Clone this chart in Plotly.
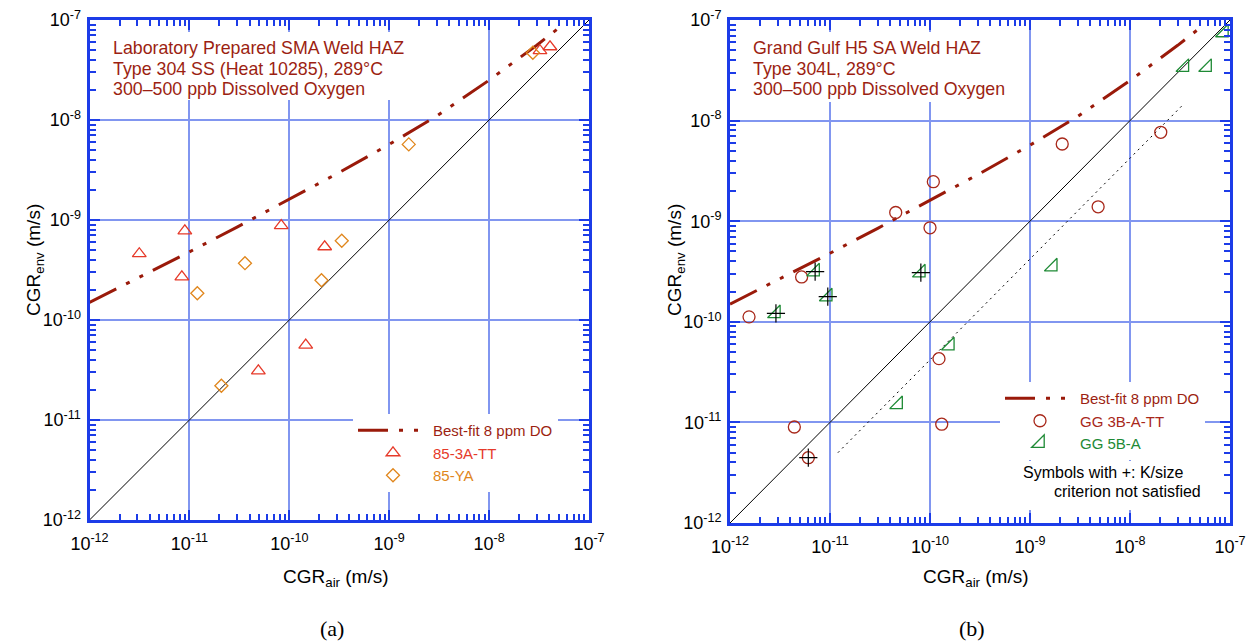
import plotly.graph_objects as go

# ---------------- data (m/s) ----------------
# Best-fit curve, 8 ppm dissolved oxygen
bestfit_air = [1e-12, 3e-12, 1e-11, 3e-11, 1e-10, 3e-10, 1e-9, 3e-9, 1e-8, 3e-8, 5.2e-8]
bestfit_env = [1.5e-10, 2.6e-10, 4.8e-10, 8.5e-10, 1.6e-9, 2.9e-9, 5.7e-9, 1.1e-8, 2.5e-8, 5.6e-8, 8.6e-8]

# 1:1 line
unity_air = [1e-12, 1e-7]
unity_env = [1e-12, 1e-7]

# Panel (a): laboratory prepared SMA weld HAZ
tt85_air = [3.15e-12, 9.0e-12, 8.4e-12, 8.3e-11, 2.26e-10, 1.46e-10, 4.9e-11, 3.23e-8, 4.07e-8]
tt85_env = [4.6e-10, 7.8e-10, 2.7e-10, 8.8e-10, 5.4e-10, 5.6e-11, 3.1e-11, 4.93e-8, 5.4e-8]
ya85_air = [3.6e-11, 1.2e-11, 3.35e-10, 2.1e-10, 2.09e-11, 1.57e-9, 2.74e-8]
ya85_env = [3.7e-10, 1.85e-10, 6.2e-10, 2.5e-10, 2.2e-11, 5.7e-9, 4.7e-8]

# Panel (b): Grand Gulf H5 SA weld HAZ
gg3b_air = [1.55e-12, 5.2e-12, 4.54e-11, 1.0e-10, 1.23e-10, 1.31e-10, 4.4e-12, 6.07e-12,
            1.08e-10, 2.1e-9, 2.03e-8, 4.8e-9]
gg3b_env = [1.12e-10, 2.79e-10, 1.22e-9, 8.6e-10, 4.3e-11, 9.6e-12, 9.0e-12, 4.46e-12,
            2.47e-9, 5.85e-9, 7.65e-9, 1.39e-9]
gg3b_ksize_fail = [False, False, False, False, False, False, False, True,
                   False, False, False, False]
gg5b_air = [2.88e-12, 7.1e-12, 9.5e-12, 8.1e-11, 1.58e-10, 4.8e-11, 1.69e-9, 3.5e-8, 5.9e-8, 8.7e-8]
gg5b_env = [1.21e-10, 3.15e-10, 1.78e-10, 3.08e-10, 5.8e-11, 1.51e-11, 3.53e-10, 3.39e-8, 3.39e-8, 7.5e-8]
gg5b_ksize_fail = [True, True, True, True, False, False, False, False, False, False]

# Lower bound (dotted) in panel (b)
lower_air = [1.2e-11, 3.3e-8]
lower_env = [5.0e-12, 1.4e-8]

# Tick labels
decades = [1e-12, 1e-11, 1e-10, 1e-9, 1e-8, 1e-7]
decade_labels = ["10<sup>-12</sup>", "10<sup>-11</sup>", "10<sup>-10</sup>",
                 "10<sup>-9</sup>", "10<sup>-8</sup>", "10<sup>-7</sup>"]
minor_vals = [m * d for d in decades[:-1] for m in range(2, 10)]

# Panel captions
caption_a = ["Laboratory Prepared SMA Weld HAZ", "Type 304 SS (Heat 10285), 289°C",
             "300–500 ppb Dissolved Oxygen"]
caption_b = ["Grand Gulf H5 SA Weld HAZ", "Type 304L, 289°C", "300–500 ppb Dissolved Oxygen"]
note_lines = ["Symbols with +: K/size", "criterion not satisfied"]

# ---------------- styles ----------------
W, H = 1256, 642
FONT = "Liberation Sans, Arial, sans-serif"
AXIS_BLUE = "#1c3ce8"
GRID_BLUE = "#8196f0"
DARK_RED = "#9c1f12"
FIT_RED = "#9a1a0a"
RED = "#e63a2a"
ORANGE = "#e0861c"
GG3_RED = "#a8281a"
GREEN = "#1e8a35"
FIT_DASH = "30px,11px,4px,11px,4px,11px"


def px_x(p):
    return p / W


def px_y(p):
    return 1 - p / H


def log_axis(domain, anchor, standoff):
    return dict(
        type="log", range=[-12, -7], domain=domain, anchor=anchor, automargin=False,
        showline=True, linecolor=AXIS_BLUE, linewidth=3, mirror="ticks",
        ticks="inside", ticklen=10, tickwidth=2, tickcolor=AXIS_BLUE,
        tickmode="array", tickvals=decades, ticktext=decade_labels,
        tickfont=dict(family=FONT, size=18, color="black"), ticklabelstandoff=standoff,
        showgrid=True, gridcolor=GRID_BLUE, gridwidth=1.5, zeroline=False,
        minor=dict(ticks="inside", ticklen=6, tickwidth=1.5, tickcolor=AXIS_BLUE,
                   tickmode="array", tickvals=minor_vals, showgrid=False),
    )


fig = go.Figure()


def add_common(xa, ya, legend):
    fig.add_trace(go.Scatter(
        x=bestfit_air, y=bestfit_env, mode="lines", xaxis=xa, yaxis=ya,
        line=dict(color=FIT_RED, width=3, dash=FIT_DASH),
        name=f"<span style='color:{DARK_RED}'>Best-fit 8 ppm DO</span>",
        legend=legend, showlegend=True))
    fig.add_trace(go.Scatter(
        x=unity_air, y=unity_env, mode="lines", xaxis=xa, yaxis=ya,
        line=dict(color="black", width=1), showlegend=False, hoverinfo="skip"))


# ---- panel (a) ----
add_common("x", "y", "legend")
fig.add_trace(go.Scatter(
    x=tt85_air, y=tt85_env, mode="markers", xaxis="x", yaxis="y",
    marker=dict(symbol="triangle-up-open", size=12, color=RED, line=dict(width=1.3, color=RED)),
    name=f"<span style='color:{RED}'>85-3A-TT</span>", legend="legend"))
fig.add_trace(go.Scatter(
    x=ya85_air, y=ya85_env, mode="markers", xaxis="x", yaxis="y",
    marker=dict(symbol="diamond-open", size=10, color=ORANGE, line=dict(width=1.3, color=ORANGE)),
    name=f"<span style='color:{ORANGE}'>85-YA</span>", legend="legend"))

# ---- panel (b) ----
add_common("x2", "y2", "legend2")
fig.add_trace(go.Scatter(
    x=lower_air, y=lower_env, mode="lines", xaxis="x2", yaxis="y2",
    line=dict(color="black", width=1, dash="2px,4px"), showlegend=False, hoverinfo="skip"))
fig.add_trace(go.Scatter(
    x=gg3b_air, y=gg3b_env, mode="markers", xaxis="x2", yaxis="y2",
    marker=dict(symbol="circle-open", size=12, color=GG3_RED, line=dict(width=1.3, color=GG3_RED)),
    name=f"<span style='color:{GG3_RED}'>GG 3B-A-TT</span>", legend="legend2"))
fig.add_trace(go.Scatter(
    x=gg5b_air, y=gg5b_env, mode="markers", xaxis="x2", yaxis="y2",
    marker=dict(symbol="triangle-se-open", size=14, color=GREEN, line=dict(width=1.3, color=GREEN)),
    name=f"<span style='color:{GREEN}'>GG 5B-A</span>", legend="legend2"))

# "+" overlay for specimens not meeting the K/size criterion
plus_air = [a for a, f in zip(gg3b_air, gg3b_ksize_fail) if f] + \
           [a for a, f in zip(gg5b_air, gg5b_ksize_fail) if f]
plus_env = [e for e, f in zip(gg3b_env, gg3b_ksize_fail) if f] + \
           [e for e, f in zip(gg5b_env, gg5b_ksize_fail) if f]
fig.add_trace(go.Scatter(
    x=plus_air, y=plus_env, mode="markers", xaxis="x2", yaxis="y2",
    marker=dict(symbol="cross-thin-open", size=13, color="black", line=dict(width=1.2, color="black")),
    showlegend=False, hoverinfo="skip"))

# ---------------- layout ----------------
xa_left = log_axis([px_x(89.5), px_x(589)], "y", 5)
ya_left = log_axis([px_y(520), px_y(20)], "x", 2)
xa_right = log_axis([px_x(730), px_x(1230)], "y2", 5)
ya_right = log_axis([px_y(523), px_y(20)], "x2", 2)

legend_common = dict(
    bgcolor="white", borderwidth=0, xanchor="left", yanchor="top",
    font=dict(family=FONT, size=15), itemwidth=70, tracegroupgap=0,
)

# white panels behind the text blocks (mask the grid lines)
shapes = []
for x0, y0, x1, y1 in ((101, 32, 412, 100), (741, 32, 990, 102), (1014, 461, 1212, 510)):
    shapes.append(dict(type="rect", xref="paper", yref="paper",
                       x0=px_x(x0), x1=px_x(x1), y0=px_y(y1), y1=px_y(y0),
                       fillcolor="white", line=dict(width=0), layer="above"))

annotations = []


def note(x, y, text, size, color):
    annotations.append(dict(
        x=px_x(x), y=px_y(y), xref="paper", yref="paper", text=text,
        showarrow=False, font=dict(family=FONT, size=size, color=color),
        xanchor="left", yanchor="middle", align="left", borderpad=0))


for x0, lines in ((112, caption_a), (752, caption_b)):
    for yc, line in zip((48, 69, 89), lines):
        note(x0, yc, line, 17.8, DARK_RED)

note(1022, 472, note_lines[0], 16, "black")
note(1053, 491, note_lines[1], 16, "black")

# axis titles
for cx in (336, 976):
    annotations.append(dict(x=px_x(cx), y=px_y(578), xref="paper", yref="paper",
                            text="CGR<sub>air</sub> (m/s)", showarrow=False,
                            font=dict(family=FONT, size=19, color="black"),
                            xanchor="center", yanchor="middle"))
for cx in (35, 676):
    annotations.append(dict(x=px_x(cx), y=px_y(260), xref="paper", yref="paper",
                            text="CGR<sub>env</sub> (m/s)", showarrow=False, textangle=-90,
                            font=dict(family=FONT, size=19, color="black"),
                            xanchor="center", yanchor="middle"))
# panel labels
for cx, lab in ((332, "(a)"), (972, "(b)")):
    annotations.append(dict(x=px_x(cx), y=px_y(628), xref="paper", yref="paper",
                            text=lab, showarrow=False,
                            font=dict(family="Liberation Serif, Times New Roman, serif", size=22, color="black"),
                            xanchor="center", yanchor="middle"))

fig.update_layout(
    width=W, height=H,
    margin=dict(l=0, r=0, t=0, b=0, pad=0, autoexpand=False),
    paper_bgcolor="white", plot_bgcolor="white",
    font=dict(family=FONT, size=16, color="black"),
    xaxis=xa_left, yaxis=ya_left, xaxis2=xa_right, yaxis2=ya_right,
    legend=dict(x=px_x(353), y=px_y(414), **legend_common),
    legend2=dict(x=px_x(1000), y=px_y(382), **legend_common),
    shapes=shapes,
    annotations=annotations,
    showlegend=True,
)

fig.write_html("out.html")
